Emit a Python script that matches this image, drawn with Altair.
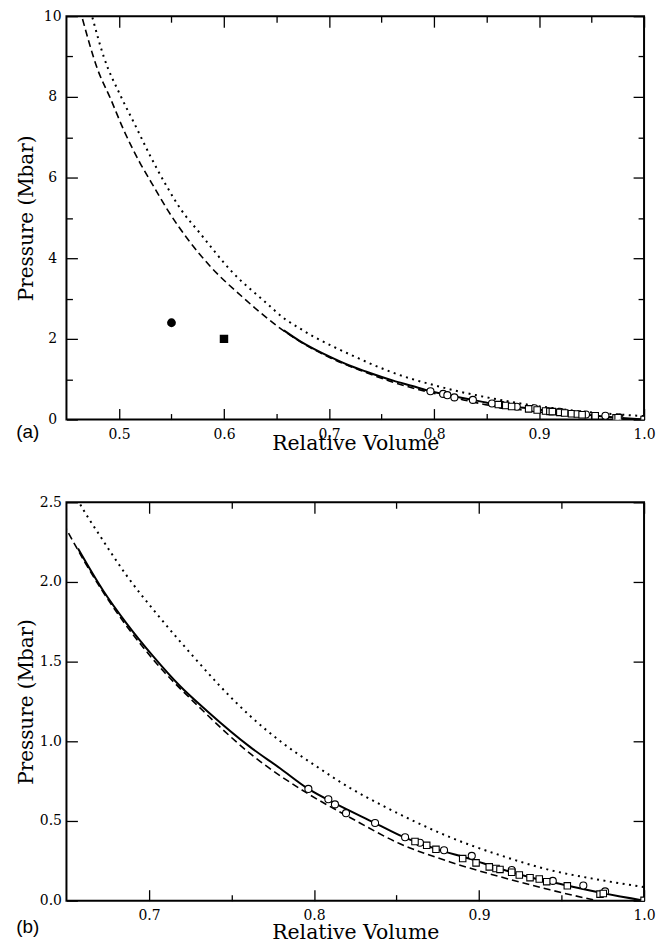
import altair as alt
import pandas as pd

# ---------------- data ----------------
dotted_v = [0.4747, 0.4857, 0.5013, 0.5154, 0.5295, 0.5451, 0.5592, 0.5765, 0.6077, 0.6390,
            0.6582, 0.6703, 0.6865, 0.7047, 0.7268, 0.7430, 0.7612, 0.7814, 0.8016, 0.8218,
            0.8420, 0.8622, 0.8824, 0.9127, 0.9430, 0.9733, 1.0]
dotted_p = [9.97, 8.98, 8.04, 7.30, 6.55, 5.80, 5.20, 4.64, 3.66, 2.92,
            2.49, 2.29, 2.04, 1.80, 1.533, 1.347, 1.16, 0.986, 0.842, 0.707,
            0.594, 0.491, 0.398, 0.285, 0.192, 0.130, 0.085]

dashed_v = [0.4653, 0.4794, 0.4919, 0.5045, 0.5201, 0.5310, 0.5467, 0.5858, 0.6171, 0.6511,
            0.6720, 0.7020, 0.7329, 0.7612, 0.7956, 0.8218, 0.8521, 0.8824, 0.9127, 0.9430, 0.9713]
dashed_p = [9.93, 8.70, 7.96, 7.18, 6.36, 5.87, 5.18, 3.83, 3.05, 2.31,
            1.94, 1.52, 1.19, 0.924, 0.676, 0.522, 0.357, 0.243, 0.150, 0.068, 0.0]

solid_v = [0.657, 0.6723, 0.6865, 0.7026, 0.7188, 0.7350, 0.7612, 0.7794, 0.7966, 0.8127,
           0.8370, 0.8541, 0.8739, 0.8945, 0.9127, 0.9309, 0.9535, 0.9753, 1.0]
solid_p = [2.21, 1.945, 1.739, 1.533, 1.347, 1.192, 0.965, 0.831, 0.701, 0.610,
           0.487, 0.400, 0.325, 0.262, 0.200, 0.147, 0.095, 0.046, 0.0]

circle_v = [0.7966, 0.8087, 0.8127, 0.8194, 0.8370, 0.8552, 0.8642, 0.8788, 0.8956, 0.9198,
            0.9447, 0.9632, 0.9764]
circle_p = [0.701, 0.636, 0.604, 0.549, 0.487, 0.398, 0.363, 0.316, 0.281, 0.192,
            0.124, 0.095, 0.058]

square_v = [0.8612, 0.8683, 0.8739, 0.8901, 0.8982, 0.9062, 0.9103, 0.9127, 0.9198, 0.9244,
            0.9309, 0.9365, 0.9410, 0.9535, 0.9733, 0.9753, 1.0]
square_p = [0.371, 0.347, 0.322, 0.264, 0.237, 0.212, 0.202, 0.196, 0.178, 0.161,
            0.144, 0.136, 0.119, 0.093, 0.041, 0.045, 0.002]

filled_circle_v = [0.55]
filled_circle_p = [2.4]
filled_square_v = [0.60]
filled_square_p = [2.0]

# tick values
a_x_major = [0.5, 0.6, 0.7, 0.8, 0.9, 1.0]
a_x_minor = [0.55, 0.65, 0.75, 0.85, 0.95]
a_y_major = [0, 2, 4, 6, 8, 10]
a_y_minor = [1, 3, 5, 7, 9]
b_x_major = [0.7, 0.8, 0.9, 1.0]
b_x_minor = [0.75, 0.85, 0.95]
b_y_major = [0.0, 0.5, 1.0, 1.5, 2.0, 2.5]

SERIF = "DejaVu Serif"
SANS = "Liberation Sans"
LBL = 14      # tick label size
XT = 20.5     # x title size
YT = 20       # y title size


def df(v, p):
    return pd.DataFrame({"v": v, "p": p})


def tick_axis(orient, offset, values, size):
    return alt.Axis(orient=orient, offset=offset, values=values, tickSize=size,
                    tickWidth=1.3, tickColor="black", ticks=True, labels=False,
                    domain=False, grid=False, title=None, minExtent=0, maxExtent=0)


def x_label_axis(values, title_y, pad):
    return alt.Axis(orient="bottom", values=values, format=".1f", ticks=False, tickSize=0,
                    domain=False, grid=False, labelFont=SERIF, labelFontSize=LBL,
                    labelColor="black", labelPadding=pad, labelFlush=False, labelOverlap=False,
                    title="Relative Volume", titleFont=SERIF, titleFontSize=XT,
                    titleFontWeight="normal", titleColor="black", titleY=title_y,
                    titleBaseline="alphabetic")


def y_label_axis(values, fmt, title_x, H, align, pad):
    return alt.Axis(orient="left", values=values, format=fmt, ticks=False, tickSize=0,
                    domain=False, grid=False, labelFont=SERIF, labelFontSize=LBL,
                    labelColor="black", labelPadding=pad, labelAlign=align,
                    labelFlush=False, labelOverlap=False,
                    title="Pressure (Mbar)", titleFont=SERIF, titleFontSize=YT,
                    titleFontWeight="normal", titleColor="black", titleX=title_x,
                    titleY=H / 2, titleAngle=270, titleAlign="center",
                    titleBaseline="alphabetic")


def panel(W, H, xdom, ydom, x_axes, y_axes, layers_spec, label, label_dy):
    xs = alt.Scale(domain=xdom, nice=False, zero=False)
    ys = alt.Scale(domain=ydom, nice=False, zero=False)
    layers = []
    for i, (mark, data) in enumerate(layers_spec):
        xa = x_axes[i] if i < len(x_axes) else None
        ya = y_axes[i] if i < len(y_axes) else None
        layers.append(mark.encode(
            x=alt.X("v:Q", scale=xs, axis=xa),
            y=alt.Y("p:Q", scale=ys, axis=ya),
        ).properties(data=data))
    ch = alt.layer(*layers).resolve_axis(x="independent", y="independent").properties(
        width=W, height=H,
        title=alt.TitleParams(label, orient="bottom", anchor="start", font=SANS,
                              fontSize=19, fontWeight="normal", color="black",
                              dy=label_dy, offset=0),
    )
    return ch


dotted = alt.Chart().mark_line(color="black", strokeWidth=2, strokeDash=[2, 4.5],
                                interpolate="monotone", clip=True)
dashed = alt.Chart().mark_line(color="black", strokeWidth=1.6, strokeDash=[7, 4],
                                interpolate="monotone", clip=True)
solid = alt.Chart().mark_line(color="black", strokeWidth=2, interpolate="monotone", clip=True)
open_c = alt.Chart().mark_point(shape="circle", filled=True, fill="white", stroke="black",
                                 strokeWidth=1.1, size=50, opacity=1, clip=True)
open_s = alt.Chart().mark_point(shape="square", filled=True, fill="white", stroke="black",
                                 strokeWidth=1.1, size=42, opacity=1, clip=True)
fill_c = alt.Chart().mark_point(shape="circle", filled=True, color="black", size=78,
                                 opacity=1, clip=True)
fill_s = alt.Chart().mark_point(shape="square", filled=True, color="black", size=72,
                                 opacity=1, clip=True)

MAJ, MIN = 11, 6
TITLE_X = -34.5

# ---------------- panel (a) ----------------
Wa, Ha = 580, 405
xa_axes = [
    x_label_axis(a_x_major, 30, 8),
    tick_axis("top", -Ha, a_x_major, MAJ),
    tick_axis("top", -Ha, a_x_minor, MIN),
    tick_axis("bottom", -Ha, a_x_major, MAJ),
    tick_axis("bottom", -Ha, a_x_minor, MIN),
]
ya_axes = [
    y_label_axis(a_y_major, "d", TITLE_X, Ha, "center", 14.3),
    tick_axis("right", -Wa, a_y_major, MAJ),
    tick_axis("right", -Wa, a_y_minor, MIN),
    tick_axis("left", -Wa, a_y_major, MAJ),
    tick_axis("left", -Wa, a_y_minor, MIN),
]
chart_a = panel(Wa, Ha, [0.45, 1.0], [0, 10], xa_axes, ya_axes, [
    (dotted, df(dotted_v, dotted_p)),
    (dashed, df(dashed_v, dashed_p)),
    (solid, df(solid_v, solid_p)),
    (open_c, df(circle_v, circle_p)),
    (open_s, df(square_v, square_p)),
    (fill_c, df(filled_circle_v, filled_circle_p)),
    (fill_s, df(filled_square_v, filled_square_p)),
], "(a)", -31.4)

# ---------------- panel (b) ----------------
Wb, Hb = 580, 400
xb_axes = [
    x_label_axis(b_x_major, 38, 7.5),
    tick_axis("top", -Hb, b_x_major, MAJ),
    tick_axis("top", -Hb, b_x_minor, MIN),
    tick_axis("bottom", -Hb, b_x_major, MAJ),
    tick_axis("bottom", -Hb, b_x_minor, MIN),
]
yb_axes = [
    y_label_axis(b_y_major, ".1f", TITLE_X, Hb, "right", 5),
    tick_axis("right", -Wb, b_y_major, MAJ),
    tick_axis("left", -Wb, b_y_major, MAJ),
]
chart_b = panel(Wb, Hb, [0.65, 1.0], [0, 2.5], xb_axes, yb_axes, [
    (dotted, df(dotted_v, dotted_p)),
    (dashed, df(dashed_v, dashed_p)),
    (solid, df(solid_v, solid_p)),
    (open_c, df(circle_v, circle_p)),
    (open_s, df(square_v, square_p)),
], "(b)", -25.4)

chart = alt.vconcat(chart_a, chart_b, spacing=39.1).properties(
    padding={"left": 6.7, "top": -1.7, "right": 0, "bottom": 0}
).configure_view(stroke="black", strokeWidth=2).configure_axis(grid=False)

chart.save("out.html", embed_options={"renderer": "svg", "actions": False})
